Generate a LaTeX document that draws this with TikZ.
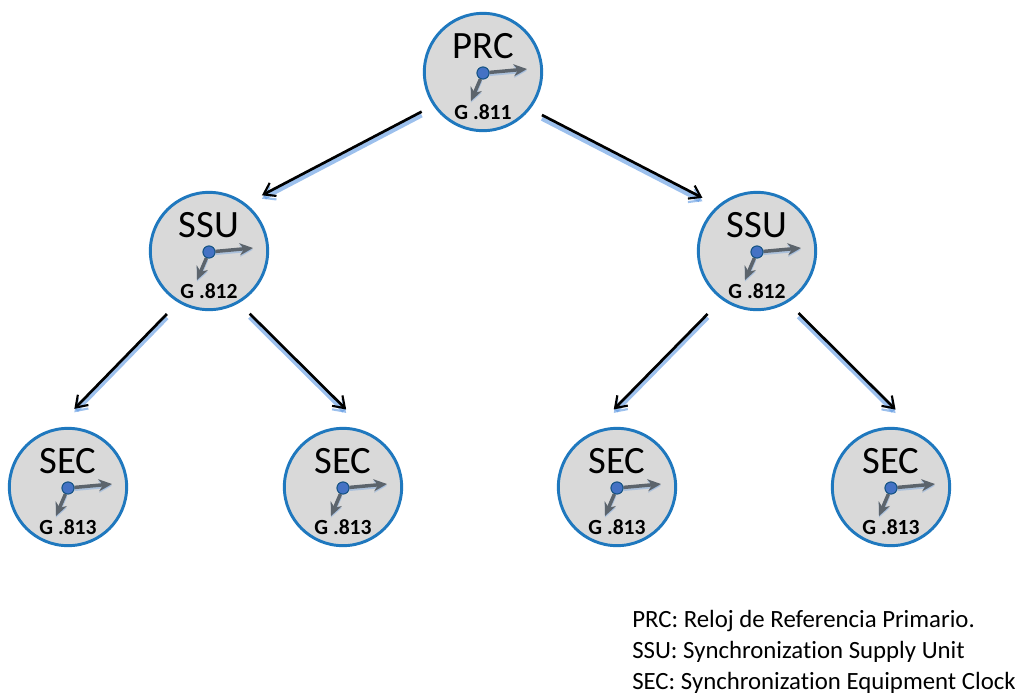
\documentclass[tikz,border=0pt]{standalone}
\usepackage{fontspec}
\setmainfont[Ligatures=NoCommon]{Carlito}
\usetikzlibrary{arrows.meta}
\definecolor{ringblue}{RGB}{31,120,190}
\definecolor{discgray}{RGB}{217,217,217}
\definecolor{handgray}{RGB}{92,100,108}
\definecolor{hubblue}{RGB}{68,114,196}
\definecolor{glowblue}{RGB}{90,150,225}
\tikzset{
    clock/.style={circle, draw=ringblue, fill=discgray, line width=2.2pt, minimum size=88pt, inner sep=0pt},
    level/.style={font=\fontsize{29}{29}\selectfont, inner sep=0pt},
    standard/.style={font=\fontsize{16.2}{16.2}\selectfont\bfseries, inner sep=0pt},
    legend/.style={font=\fontsize{18.6}{23.2}\selectfont, inner sep=0pt, align=left, anchor=north west},
    link/.style={black, line width=2pt, -{Straight Barb[length=8pt,width=11pt,line width=1.6pt]},
        preaction={draw=glowblue, line width=3.5pt, opacity=0.6, -{Straight Barb[length=8pt,width=11pt,line width=1.6pt]}, transform canvas={yshift=-2.6pt}}},
    hand/.style={handgray, line width=2.6pt, -{Stealth[length=10pt,width=9pt]},
        preaction={draw=glowblue, line width=3pt, opacity=0.35, transform canvas={yshift=-1.2pt}}},
    hub/.style={circle, draw=ringblue!70!black, fill=hubblue, line width=0.7pt, minimum size=9pt, inner sep=0pt}
}
\begin{document}
\begin{tikzpicture}[x=0.75pt, y=-0.75pt]
    \useasboundingbox (0,0) rectangle (1018,694);
    % clocks
    \foreach \name/\x/\y/\title/\std in {prc/483/72/PRC/811, ssuA/209/251/SSU/812, ssuB/757/251/SSU/812,
        secA/68/487/SEC/813, secB/343/487/SEC/813, secC/617/487/SEC/813, secD/891/487/SEC/813} {
        \node[clock] (\name) at (\x,\y) {};
        \node[level] (\name title) at (\x,\y-25.5) {\title};
        \node[standard] (\name std) at (\x,\y+40) {G .\std};
        \coordinate (\name long) at (\x+44,\y-3);
        \coordinate (\name short) at (\x-12,\y+29);
        \node[hub] (\name hub) at (\x,\y+1) {};
        \draw[hand] (\name hub) -- (\name long);
        \draw[hand] (\name hub) -- (\name short);
        \node[hub] at (\x,\y+1) {};
    }
    % links
    \foreach \from/\fa/\sa/\to/\ta/\sb in {prc/214/13/ssuA/52/18, prc/322/13/ssuB/131/17,
        ssuA/239/16/secA/102/27, ssuA/300/15/secB/63/34, ssuB/234/20/secC/116/33, ssuB/301/15/secD/60/36} {
        \draw[link, shorten <=\sa*0.75pt, shorten >=\sb*0.75pt] (\from.\fa) -- (\to.\ta);
    }
    \node[legend] (key) at (632,610) {PRC: Reloj de Referencia Primario.\\SSU: Synchronization Supply Unit\\SEC: Synchronization Equipment Clock};
\end{tikzpicture}
\end{document}
